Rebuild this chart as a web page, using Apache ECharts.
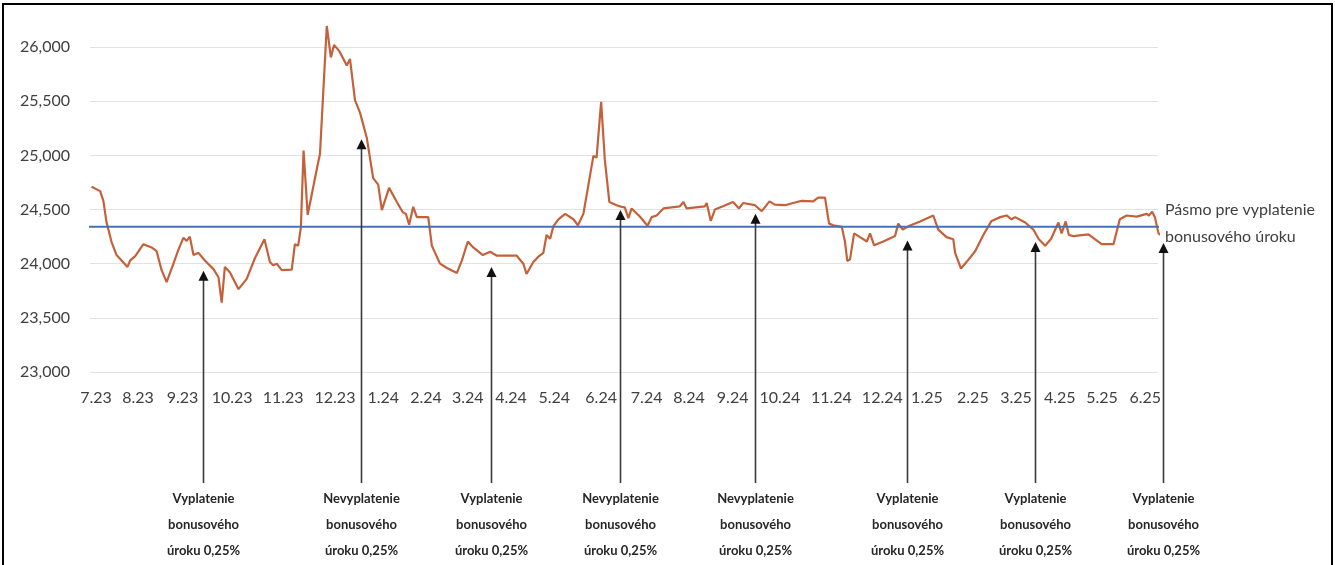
<!DOCTYPE html>
<html><head><meta charset="utf-8">
<script src="https://cdn.jsdelivr.net/npm/echarts@6/dist/echarts.min.js"></script>
<style>html,body{margin:0;padding:0;background:#fff}#c{width:1335px;height:565px}</style>
</head><body><div id="c"></div>
<script>
// x position in months from July 2023, value of the series
const xPos = [-0.12,0.07,0.14,0.21,0.32,0.43,0.54,0.67,0.73,0.84,1.02,1.20,1.31,1.42,1.53,1.68,1.79,1.90,1.97,2.04,2.12,2.23,2.37,2.56,2.67,2.74,2.81,2.92,3.11,3.29,3.47,3.68,3.80,3.87,3.95,4.06,4.28,4.35,4.42,4.48,4.54,4.63,4.86,4.90,5.05,5.14,5.21,5.33,5.49,5.56,5.67,5.78,5.93,6.07,6.18,6.26,6.42,6.59,6.72,6.79,6.86,6.95,7.03,7.28,7.36,7.43,7.54,7.69,7.91,8.02,8.15,8.27,8.48,8.64,8.78,9.22,9.37,9.44,9.59,9.70,9.81,9.88,9.96,10.03,10.14,10.29,10.47,10.57,10.69,10.91,10.98,11.08,11.16,11.26,11.42,11.53,11.60,11.68,11.75,11.93,12.10,12.19,12.30,12.45,12.81,12.89,12.96,13.36,13.40,13.49,13.58,13.73,13.98,14.11,14.20,14.46,14.61,14.78,14.90,15.12,15.38,15.49,15.74,15.85,16.00,16.09,16.18,16.37,16.44,16.49,16.55,16.64,16.77,16.92,16.99,17.08,17.28,17.54,17.61,17.71,17.83,18.09,18.38,18.49,18.67,18.82,18.86,18.99,19.11,19.30,19.48,19.66,19.85,19.99,20.10,20.18,20.40,20.58,20.70,20.84,20.97,21.13,21.20,21.29,21.36,21.46,21.79,22.08,22.34,22.48,22.63,22.85,23.07,23.12,23.19,23.25,23.33,23.45];
const values = [24710,24670,24580,24380,24200,24080,24030,23970,24030,24070,24180,24150,24115,23940,23830,24000,24130,24240,24210,24250,24080,24100,24030,23950,23875,23640,23970,23920,23765,23860,24050,24225,24015,23985,24000,23940,23945,24180,24165,24330,25045,24450,24935,25010,26195,25905,26020,25960,25830,25890,25510,25395,25160,24790,24730,24495,24700,24570,24475,24460,24360,24525,24430,24430,24165,24100,24000,23960,23915,24030,24205,24150,24080,24110,24075,24075,24000,23905,24015,24065,24100,24265,24230,24345,24410,24460,24410,24355,24460,24995,24980,25495,24965,24570,24540,24525,24520,24420,24510,24435,24350,24430,24445,24510,24530,24570,24510,24530,24560,24395,24500,24525,24570,24510,24560,24540,24485,24575,24545,24540,24570,24580,24575,24610,24610,24370,24355,24340,24200,24025,24040,24280,24245,24205,24280,24170,24205,24255,24370,24315,24345,24390,24445,24315,24245,24225,24100,23955,24015,24115,24265,24395,24430,24445,24410,24430,24380,24315,24225,24165,24230,24380,24280,24390,24265,24255,24270,24180,24180,24410,24445,24435,24460,24445,24480,24430,24280,24245];

const bandLevel = 24340;
const bandStart = -0.24;
const bandEnd = 23.41;
const bandLabel = ['Pásmo pre vyplatenie', 'bonusového úroku'];

const tickPositions = [-0.02,0.90,1.88,2.97,4.09,5.23,6.29,7.23,8.15,9.10,10.05,11.08,12.08,13.01,13.97,15.01,16.14,17.26,18.24,19.25,20.20,21.16,22.09,23.04];
const tickLabels = ['7.23','8.23','9.23','10.23','11.23','12.23','1.24','2.24','3.24','4.24','5.24','6.24','7.24','8.24','9.24','10.24','11.24','12.24','1.25','2.25','3.25','4.25','5.25','6.25'];

const arrowX = [2.32, 5.80, 8.66, 11.49, 14.46, 17.80, 20.62, 23.43];
const arrowTip = [23935, 25150, 23970, 24495, 24460, 24215, 24200, 24190];
const arrowLine1 = ['Vyplatenie','Nevyplatenie','Vyplatenie','Nevyplatenie','Nevyplatenie','Vyplatenie','Vyplatenie','Vyplatenie'];
const arrowLine2 = ['bonusového','bonusového','bonusového','bonusového','bonusového','bonusového','bonusového','bonusového'];
const arrowLine3 = ['úroku 0,25%','úroku 0,25%','úroku 0,25%','úroku 0,25%','úroku 0,25%','úroku 0,25%','úroku 0,25%','úroku 0,25%'];

const FONT = 'Lato, "Open Sans", sans-serif';
const chart = echarts.init(document.getElementById('c'), null, {renderer: 'canvas'});

function tickLabelFor(v) {
  for (let i = 0; i < tickPositions.length; i++) {
    if (Math.abs(tickPositions[i] - v) < 1e-6) return tickLabels[i];
  }
  return '';
}

const txt = (x, y, t) => ({
  type: 'text', x: x, y: y,
  style: {text: t, fill: '#262626', font: 'bold 13px ' + FONT, align: 'center', verticalAlign: 'middle'}
});

chart.setOption({
  animation: false,
  backgroundColor: '#fff',
  grid: {left: 90, right: 177, top: 20, bottom: 193, containLabel: false},
  xAxis: {
    type: 'value', min: -0.154, max: 23.319,
    axisLine: {show: false}, splitLine: {show: false},
    axisTick: {show: false, customValues: tickPositions},
    axisLabel: {
      show: true,
      customValues: tickPositions,
      formatter: v => tickLabelFor(v),
      color: '#404040', fontSize: 16, fontFamily: FONT, margin: 18,
      hideOverlap: false, showMinLabel: true, showMaxLabel: true
    }
  },
  yAxis: {
    type: 'value', min: 23000, max: 26250, interval: 500,
    axisLine: {show: false}, axisTick: {show: false},
    splitLine: {show: true, showMaxLine: false, lineStyle: {color: '#e2e2e2', width: 1}},
    axisLabel: {
      showMaxLabel: false,
      formatter: v => (v % 500 === 0 ? v.toLocaleString('en-US') : ''),
      color: '#404040', fontSize: 16, fontFamily: FONT, margin: 20
    }
  },
  graphic: [{
    type: 'rect', shape: {x: 3, y: 4, width: 1329, height: 568},
    style: {fill: 'none', stroke: '#000', lineWidth: 2}, silent: true
  }],
  series: [
    {
      type: 'line', data: xPos.map((x, i) => [x, values[i]]),
      showSymbol: false, clip: false, z: 2,
      lineStyle: {color: '#c5613a', width: 2.2}, itemStyle: {color: '#c5613a'}
    },
    {
      type: 'line', data: [[bandStart, bandLevel], [bandEnd, bandLevel]],
      showSymbol: false, clip: false, z: 3,
      lineStyle: {color: '#4a70b0', width: 2}, itemStyle: {color: '#4a70b0'},
      endLabel: {
        show: true, formatter: bandLabel.join('\n'), distance: 6, offset: [0, -4],
        color: '#404040', fontSize: 16, fontFamily: FONT, lineHeight: 27, align: 'left'
      }
    },
    {
      type: 'custom', clip: false, z: 4,
      data: arrowX.map((x, i) => [x, arrowTip[i]]),
      renderItem: (params, api) => {
        const p = api.coord([api.value(0), api.value(1)]);
        const i = params.dataIndex;
        const x = Math.round(p[0]) + 0.5;
        const ty = p[1];
        return {
          type: 'group',
          children: [
            {type: 'line', shape: {x1: x, y1: ty + 8, x2: x, y2: 483}, style: {stroke: '#3a3a3a', lineWidth: 1.6}},
            {type: 'polygon', shape: {points: [[x, ty], [x - 5, ty + 10], [x + 5, ty + 10]]}, style: {fill: '#111'}},
            txt(x, 499, arrowLine1[i]),
            txt(x, 525, arrowLine2[i]),
            txt(x, 551, arrowLine3[i])
          ]
        };
      }
    }
  ]
});
</script>
</body></html>
